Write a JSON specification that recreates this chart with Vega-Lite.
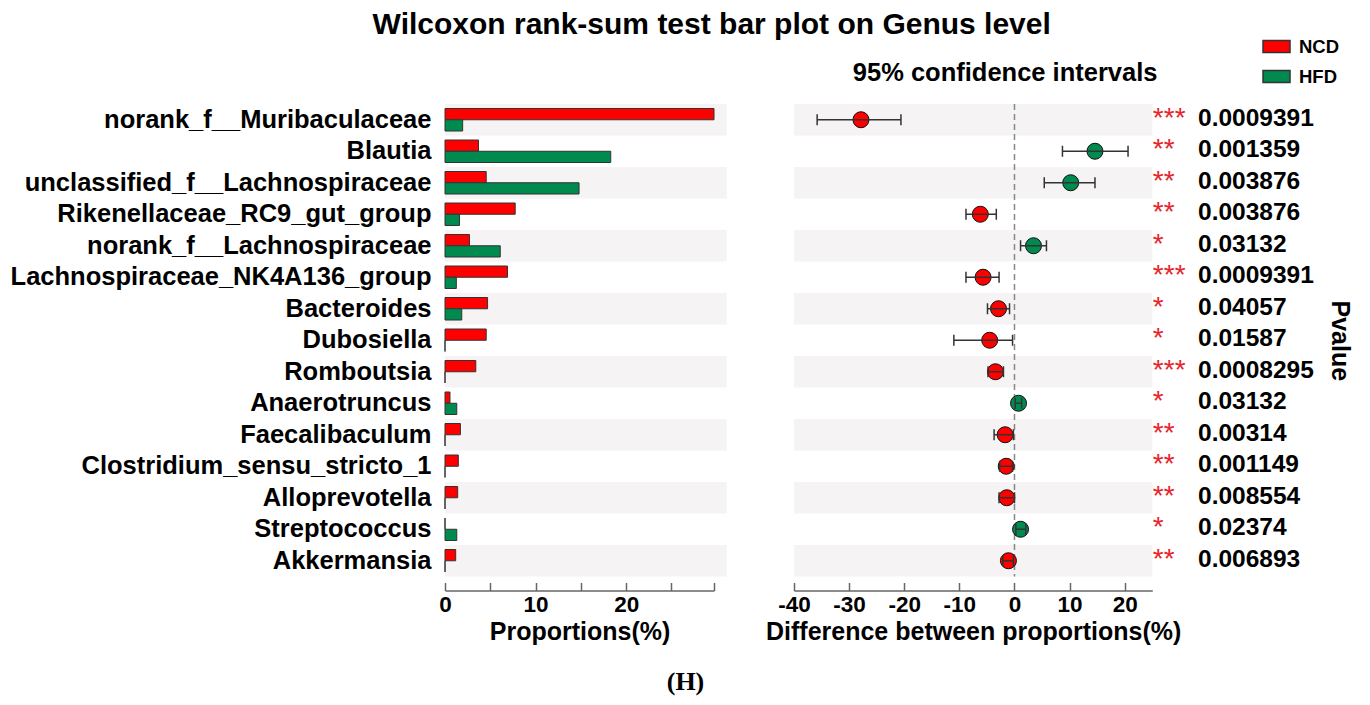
{
  "$schema": "https://vega.github.io/schema/vega-lite/v6.json",
  "padding": {"left": 10, "top": 10, "right": 5, "bottom": 5},
  "bounds": "flush",
  "spacing": 80,
  "background": "white",
  "title": {"text": "Wilcoxon rank-sum test bar plot on Genus level", "fontSize": 30, "fontWeight": "bold", "font": "Liberation Sans", "color": "black", "anchor": "middle", "dx": 31, "offset": -8}, 
  "datasets": {
    "rows": [
      {"rank": 1, "genus": "norank_f__Muribaculaceae", "NCD": 29.7, "HFD": 1.95, "enriched": "NCD", "diff": -27.85, "lo": -35.8, "hi": -20.6, "pvalue": "0.0009391", "stars": "***"},
      {"rank": 2, "genus": "Blautia", "NCD": 3.7, "HFD": 18.3, "enriched": "HFD", "diff": 14.6, "lo": 8.7, "hi": 20.6, "pvalue": "0.001359", "stars": "**"},
      {"rank": 3, "genus": "unclassified_f__Lachnospiraceae", "NCD": 4.55, "HFD": 14.8, "enriched": "HFD", "diff": 10.2, "lo": 5.4, "hi": 14.6, "pvalue": "0.003876", "stars": "**"},
      {"rank": 4, "genus": "Rikenellaceae_RC9_gut_group", "NCD": 7.75, "HFD": 1.6, "enriched": "NCD", "diff": -6.2, "lo": -8.8, "hi": -3.3, "pvalue": "0.003876", "stars": "**"},
      {"rank": 5, "genus": "norank_f__Lachnospiraceae", "NCD": 2.7, "HFD": 6.1, "enriched": "HFD", "diff": 3.45, "lo": 1.1, "hi": 5.8, "pvalue": "0.03132", "stars": "*"},
      {"rank": 6, "genus": "Lachnospiraceae_NK4A136_group", "NCD": 6.9, "HFD": 1.25, "enriched": "NCD", "diff": -5.7, "lo": -8.8, "hi": -2.8, "pvalue": "0.0009391", "stars": "***"},
      {"rank": 7, "genus": "Bacteroides", "NCD": 4.7, "HFD": 1.85, "enriched": "NCD", "diff": -2.9, "lo": -4.9, "hi": -0.9, "pvalue": "0.04057", "stars": "*"},
      {"rank": 8, "genus": "Dubosiella", "NCD": 4.55, "HFD": 0, "enriched": "NCD", "diff": -4.5, "lo": -11.0, "hi": -0.35, "pvalue": "0.01587", "stars": "*"},
      {"rank": 9, "genus": "Romboutsia", "NCD": 3.4, "HFD": 0, "enriched": "NCD", "diff": -3.45, "lo": -4.8, "hi": -2.0, "pvalue": "0.0008295", "stars": "***"},
      {"rank": 10, "genus": "Anaerotruncus", "NCD": 0.55, "HFD": 1.3, "enriched": "HFD", "diff": 0.73, "lo": 0.13, "hi": 1.3, "pvalue": "0.03132", "stars": "*"},
      {"rank": 11, "genus": "Faecalibaculum", "NCD": 1.7, "HFD": 0, "enriched": "NCD", "diff": -1.7, "lo": -3.7, "hi": -0.2, "pvalue": "0.00314", "stars": "**"},
      {"rank": 12, "genus": "Clostridium_sensu_stricto_1", "NCD": 1.47, "HFD": 0, "enriched": "NCD", "diff": -1.5, "lo": -2.7, "hi": -0.36, "pvalue": "0.001149", "stars": "**"},
      {"rank": 13, "genus": "Alloprevotella", "NCD": 1.4, "HFD": 0, "enriched": "NCD", "diff": -1.4, "lo": -2.8, "hi": 0, "pvalue": "0.008554", "stars": "**"},
      {"rank": 14, "genus": "Streptococcus", "NCD": 0, "HFD": 1.3, "enriched": "HFD", "diff": 1.1, "lo": 0.25, "hi": 2.05, "pvalue": "0.02374", "stars": "*"},
      {"rank": 15, "genus": "Akkermansia", "NCD": 1.18, "HFD": 0, "enriched": "NCD", "diff": -1.1, "lo": -2.1, "hi": -0.2, "pvalue": "0.006893", "stars": "**"}
    ],
    "zero": [{"ref": 0}]
  },
  "hconcat": [
    {
      "width": 269,
      "height": 472.5,
      "data": {"name": "rows"},
      "title": {"text": "(H)", "orient": "bottom", "frame": "group", "anchor": "middle", "dx": 106, "offset": 25, "font": "Liberation Serif", "fontSize": 26, "fontWeight": "bold", "color": "black"},
      "encoding": {
        "y": {"field": "genus", "type": "nominal", "sort": ["norank_f__Muribaculaceae","Blautia","unclassified_f__Lachnospiraceae","Rikenellaceae_RC9_gut_group","norank_f__Lachnospiraceae","Lachnospiraceae_NK4A136_group","Bacteroides","Dubosiella","Romboutsia","Anaerotruncus","Faecalibaculum","Clostridium_sensu_stricto_1","Alloprevotella","Streptococcus","Akkermansia"],
          "scale": {"paddingInner": 0, "paddingOuter": 0},
          "axis": {"title": null, "ticks": false, "domain": false, "labelFontSize": 25.5, "labelFontWeight": "bold", "labelColor": "black", "labelPadding": 14, "labelFont": "Liberation Sans", "labelLimit": 600}}
      },
      "layer": [
        {
          "transform": [{"filter": "datum.rank % 2 == 1"}],
          "mark": {"type": "rect", "color": "#f5f3f4", "clip": false},
          "encoding": {
            "x": {"datum": 0, "type": "quantitative"},
            "x2": {"datum": 31.1}
          }
        },
        {
          "transform": [{"fold": ["NCD", "HFD"], "as": ["group", "value"]}],
          "mark": {"type": "bar", "stroke": "#333333", "strokeWidth": 1},
          "encoding": {
            "yOffset": {"field": "group", "type": "nominal", "sort": ["NCD", "HFD"], "scale": {"paddingInner": 0, "paddingOuter": 0.4}},
            "x": {"field": "value", "type": "quantitative",
              "scale": {"domain": [0, 29.7], "nice": false, "zero": true},
              "axis": {"values": [0, 5, 10, 15, 20, 25, 29.7], "labelExpr": "datum.value % 10 === 0 ? '' + datum.value : ''", "title": "Proportions(%)", "grid": false, "offset": 14, "tickSize": -8, "labelPadding": 11, "labelOverlap": false, "labelFlush": false, "labelFontSize": 22.5, "labelFontWeight": "bold", "labelColor": "black", "titleFontSize": 25, "titleFontWeight": "bold", "titleColor": "black", "titlePadding": 3, "domainColor": "#666666", "tickColor": "#666666", "domainWidth": 1.5, "tickWidth": 1.5}},
            "color": {"field": "group", "type": "nominal", "scale": {"domain": ["NCD", "HFD"], "range": ["#ff0000", "#008a50"]},
              "legend": {"title": null, "orient": "none", "legendX": 817, "legendY": -72, "symbolType": "M-1,-0.44L1,-0.44L1,0.44L-1,0.44Z", "symbolSize": 729, "labelFontSize": 18.5, "labelFontWeight": "bold", "labelColor": "black", "labelOffset": 8, "rowPadding": 6,
                "encode": {"symbols": {"update": {"stroke": {"value": "#333333"}, "strokeWidth": {"value": 1}, "opacity": {"value": 1}}}}}}
          }
        }
      ]
    },
    {
      "width": 358.3,
      "height": 472.5,
      "data": {"name": "rows"},
      "title": {"text": "95% confidence intervals", "frame": "group", "anchor": "middle", "dx": 32, "offset": 16.5, "fontSize": 25.5, "fontWeight": "bold", "color": "black"},
      "layer": [
        {
          "transform": [{"filter": "datum.rank % 2 == 1"}],
          "mark": {"type": "rect", "color": "#f5f3f4"},
          "encoding": {
            "y": {"field": "genus", "type": "nominal", "sort": ["norank_f__Muribaculaceae","Blautia","unclassified_f__Lachnospiraceae","Rikenellaceae_RC9_gut_group","norank_f__Lachnospiraceae","Lachnospiraceae_NK4A136_group","Bacteroides","Dubosiella","Romboutsia","Anaerotruncus","Faecalibaculum","Clostridium_sensu_stricto_1","Alloprevotella","Streptococcus","Akkermansia"],
              "scale": {"paddingInner": 0, "paddingOuter": 0},
              "axis": {"orient": "right", "labels": false, "ticks": false, "domain": false, "title": "Pvalue", "titleFontSize": 25, "titleFontWeight": "bold", "titleColor": "black", "titleAngle": 90, "titlePadding": 174}},
            "x": {"datum": -40, "type": "quantitative",
              "scale": {"domain": [-40, 25], "nice": false, "zero": false},
              "axis": {"values": [-40, -35, -30, -25, -20, -15, -10, -5, 0, 5, 10, 15, 20, 25], "labelExpr": "datum.value % 10 === 0 ? '' + datum.value : ''", "title": "Difference between proportions(%)", "grid": false, "offset": 14, "tickSize": -8, "labelPadding": 11, "labelOverlap": false, "labelFlush": false, "labelFontSize": 22.5, "labelFontWeight": "bold", "labelColor": "black", "titleFontSize": 25, "titleFontWeight": "bold", "titleColor": "black", "titlePadding": 3, "domainColor": "#666666", "tickColor": "#666666", "domainWidth": 1.5, "tickWidth": 1.5}},
            "x2": {"datum": 25}
          }
        },
        {
          "data": {"name": "zero"},
          "mark": {"type": "rule", "color": "#888888", "strokeDash": [6, 4], "strokeWidth": 1.5},
          "encoding": {"x": {"field": "ref", "type": "quantitative"}}
        },
        {
          "mark": {"type": "point", "shape": "circle", "filled": true, "size": 256, "stroke": "#111111", "strokeWidth": 1, "opacity": 1},
          "encoding": {
            "y": {"field": "genus", "type": "nominal", "sort": ["norank_f__Muribaculaceae","Blautia","unclassified_f__Lachnospiraceae","Rikenellaceae_RC9_gut_group","norank_f__Lachnospiraceae","Lachnospiraceae_NK4A136_group","Bacteroides","Dubosiella","Romboutsia","Anaerotruncus","Faecalibaculum","Clostridium_sensu_stricto_1","Alloprevotella","Streptococcus","Akkermansia"]},
            "x": {"field": "diff", "type": "quantitative"},
            "color": {"field": "enriched", "type": "nominal"}
          }
        },
        {
          "mark": {"type": "rule", "color": "#333333", "strokeWidth": 1.5},
          "encoding": {
            "y": {"field": "genus", "type": "nominal", "sort": ["norank_f__Muribaculaceae","Blautia","unclassified_f__Lachnospiraceae","Rikenellaceae_RC9_gut_group","norank_f__Lachnospiraceae","Lachnospiraceae_NK4A136_group","Bacteroides","Dubosiella","Romboutsia","Anaerotruncus","Faecalibaculum","Clostridium_sensu_stricto_1","Alloprevotella","Streptococcus","Akkermansia"]},
            "x": {"field": "lo", "type": "quantitative"},
            "x2": {"field": "hi"}
          }
        },
        {
          "mark": {"type": "tick", "color": "#333333", "thickness": 1.5, "size": 11, "opacity": 1},
          "encoding": {
            "y": {"field": "genus", "type": "nominal", "sort": ["norank_f__Muribaculaceae","Blautia","unclassified_f__Lachnospiraceae","Rikenellaceae_RC9_gut_group","norank_f__Lachnospiraceae","Lachnospiraceae_NK4A136_group","Bacteroides","Dubosiella","Romboutsia","Anaerotruncus","Faecalibaculum","Clostridium_sensu_stricto_1","Alloprevotella","Streptococcus","Akkermansia"]},
            "x": {"field": "lo", "type": "quantitative"}
          }
        },
        {
          "mark": {"type": "tick", "color": "#333333", "thickness": 1.5, "size": 11, "opacity": 1},
          "encoding": {
            "y": {"field": "genus", "type": "nominal", "sort": ["norank_f__Muribaculaceae","Blautia","unclassified_f__Lachnospiraceae","Rikenellaceae_RC9_gut_group","norank_f__Lachnospiraceae","Lachnospiraceae_NK4A136_group","Bacteroides","Dubosiella","Romboutsia","Anaerotruncus","Faecalibaculum","Clostridium_sensu_stricto_1","Alloprevotella","Streptococcus","Akkermansia"]},
            "x": {"field": "hi", "type": "quantitative"}
          }
        },
        {
          "mark": {"type": "text", "align": "left", "baseline": "middle", "color": "#e8242c", "fontSize": 28, "fontWeight": "normal", "dy": -1},
          "encoding": {
            "y": {"field": "genus", "type": "nominal", "sort": ["norank_f__Muribaculaceae","Blautia","unclassified_f__Lachnospiraceae","Rikenellaceae_RC9_gut_group","norank_f__Lachnospiraceae","Lachnospiraceae_NK4A136_group","Bacteroides","Dubosiella","Romboutsia","Anaerotruncus","Faecalibaculum","Clostridium_sensu_stricto_1","Alloprevotella","Streptococcus","Akkermansia"]},
            "x": {"datum": 25.1, "type": "quantitative"},
            "text": {"field": "stars"}
          }
        },
        {
          "mark": {"type": "text", "align": "left", "baseline": "middle", "color": "black", "fontSize": 24.5, "fontWeight": "bold", "dy": -1},
          "encoding": {
            "y": {"field": "genus", "type": "nominal", "sort": ["norank_f__Muribaculaceae","Blautia","unclassified_f__Lachnospiraceae","Rikenellaceae_RC9_gut_group","norank_f__Lachnospiraceae","Lachnospiraceae_NK4A136_group","Bacteroides","Dubosiella","Romboutsia","Anaerotruncus","Faecalibaculum","Clostridium_sensu_stricto_1","Alloprevotella","Streptococcus","Akkermansia"]},
            "x": {"datum": 33.3, "type": "quantitative"},
            "text": {"field": "pvalue"}
          }
        }
      ]
    }
  ],
  "config": {
    "font": "Liberation Sans",
    "view": {"stroke": null},
    "axis": {"grid": false}
  }
}
